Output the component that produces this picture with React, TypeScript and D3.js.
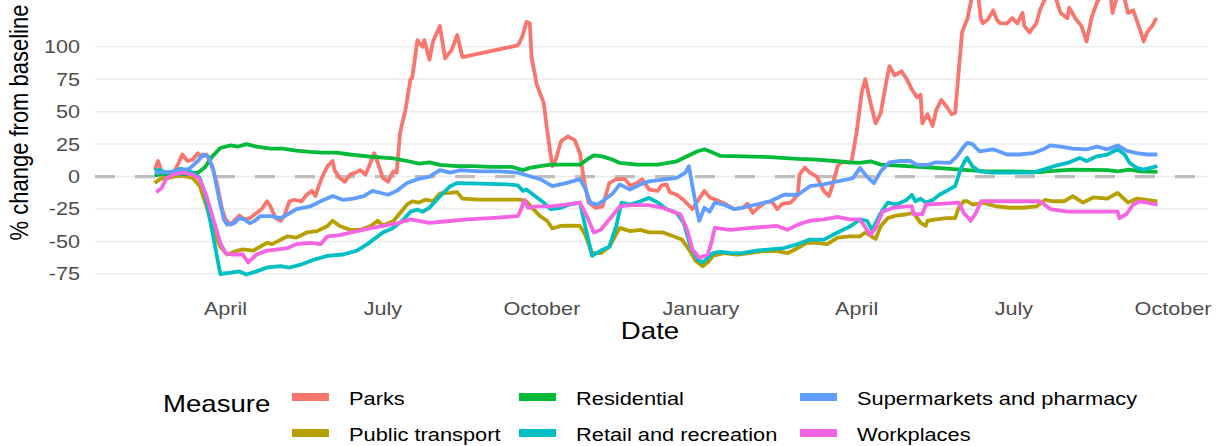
import React from "react";
import * as d3 from "d3";

// x values are days since DAY0 (1 April 2020); y values are % change from baseline
const DAY0 = "2020-04-01";
const measures = ["Parks", "Public transport", "Residential", "Retail and recreation", "Supermarkets and pharmacy", "Workplaces"];
const colours = ["#F8766D", "#B79F00", "#00BA38", "#00BFC4", "#619CFF", "#F564E3"];
const yTicks = [-75, -50, -25, 0, 25, 50, 75, 100];
const xTickDates = ["2020-04-01", "2020-07-01", "2020-10-01", "2021-01-01", "2021-04-01", "2021-07-01", "2021-10-01"];

const parks: [number, number][] = [[-41,5],[-39,12],[-36,0],[-32,-1],[-28,8],[-25,17],[-22,12],[-19,13],[-16,18],[-14,15],[-11,17],[-8,9],[-5,-5],[-2,-25],[0,-33],[3,-37],[5,-34],[8,-30],[11,-33],[14,-32],[18,-28],[21,-25],[24,-19],[26,-23],[29,-32],[32,-34],[34,-30],[37,-19],[40,-18],[44,-19],[47,-14],[50,-11],[52,-15],[54,-7],[56,0],[59,8],[62,12],[63,5],[66,-1],[69,-4],[72,1.5],[75,3],[78,5],[81,1.5],[84,11],[86,18],[88,11],[91,-1],[94,-4],[97,4],[99,3],[101,34],[104,51],[107,75],[108,76],[111,105],[114,100],[115,105],[118,90],[120,104],[124,116],[127,91],[131,98],[134,109],[137,92],[169,101],[170,103],[172,109],[174,119],[176,118],[177,92],[180,71],[184,57],[186,36],[189,8],[191,13],[194,27],[198,31],[202,28],[205,18],[207,0],[210,-20],[214,-24],[218,-23],[222,-5],[226,-2],[231,-2],[234,-7],[238,-5],[241,-2],[245,-10],[250,-11],[252,-7],[255,-6],[257,-12],[261,-14],[265,-18],[270,-25],[273,-19],[277,-11],[280,-16],[284,-18],[289,-21],[294,-25],[299,-24],[302,-21],[305,-28],[308,-24],[312,-20],[316,-19],[319,-25],[322,-21],[327,-20],[331,-14],[332,1.5],[335,7],[338,3],[342,0],[346,-11],[349,-15],[351,-7],[354,8],[356,11],[362,11],[365,34],[368,65],[370,75],[373,57],[376,41],[379,49],[382,72],[384,85],[387,78],[391,81],[394,75],[397,67],[400,61],[402,63],[403,41],[406,48],[409,39],[411,51],[414,59],[417,54],[420,48],[422,49],[424,80],[426,111],[428,118],[429,121],[432,140],[435,142],[437,121],[438,118],[441,121],[444,128],[446,121],[448,118],[452,118],[455,122],[458,118],[461,126],[462,116],[465,111],[469,118],[471,128],[475,140],[479,142],[483,126],[487,122],[488,130],[492,121],[495,116],[498,104],[501,123],[504,134],[508,142],[512,138],[513,126],[516,140],[519,142],[522,126],[525,128],[529,113],[531,104],[533,111],[536,116],[538,121],[539,121]];

const publicTransport: [number, number][] = [[-41,-5],[-38,-2],[-34,-1],[-30,0],[-25,1],[-19,-1],[-15,-7],[-11,-23],[-7,-41],[-3,-54],[1,-60],[7,-57],[10,-56],[16,-57],[20,-54],[24,-51],[27,-52],[32,-48.5],[36,-46],[41,-47],[47,-43],[53,-42],[59,-38],[62,-34],[66,-38],[72,-41],[78,-41],[84,-38],[88,-34],[91,-37.7],[97,-34.4],[101,-28],[105,-21.5],[108,-19],[112,-20],[116,-17.7],[120,-19],[124,-13],[130,-12.5],[134,-12],[137,-17],[147,-17.7],[170,-17.7],[174,-19],[178,-25],[182,-30.5],[186,-34],[189,-40],[194,-38],[199,-37.7],[205,-38],[208,-44.6],[212,-59],[217,-59],[222,-54],[228,-39.5],[234,-42],[240,-41],[245,-43],[253,-43],[259,-46],[264,-48.5],[268,-56],[272,-65],[276,-69],[279,-66],[282,-61],[288,-59],[296,-60],[303,-59],[311,-57.4],[319,-57.4],[325,-59],[331,-55],[336,-51],[342,-51],[348,-52],[354,-47],[361,-46],[367,-46],[370,-43],[376,-48],[379,-38],[383,-32],[388,-30],[394,-29],[398,-28],[402,-35.6],[405,-38],[406,-34],[411,-33],[417,-32],[422,-32],[424,-24],[427,-19],[429,-19],[432,-21.5],[438,-20],[446,-23],[454,-24],[461,-24],[469,-23],[474,-18],[479,-19],[485,-19],[490,-15],[496,-20],[502,-16],[510,-17],[516,-12.5],[522,-20],[527,-17],[533,-18],[539,-19]];

const residential: [number, number][] = [[-41,1],[-35,2],[-28,2],[-22,2],[-16,3],[-12,7],[-8,15],[-3,22],[3,24],[7,23],[12,25],[18,23],[26,21.5],[33,21.5],[41,20],[49,19],[56,18.5],[64,18.5],[72,17],[82,15.6],[91,14.6],[97,14],[105,12],[112,10],[118,11],[124,9],[134,8],[143,8],[153,7.4],[166,7.4],[172,5],[176,6.7],[182,8],[188,9.2],[197,9.2],[205,9.2],[209,13],[213,16.4],[218,15.6],[224,13],[228,10.5],[238,9.2],[250,9.2],[261,11.8],[267,15.6],[273,19.5],[277,21],[280,19.5],[286,16],[299,15.6],[315,15],[331,13.6],[342,13],[354,11.8],[361,11],[367,10.5],[373,11.8],[379,9.2],[394,8],[406,7.2],[419,5.9],[429,4.9],[440,4],[455,4],[471,3.5],[475,4],[490,5.4],[510,4.9],[516,4],[523,5.4],[529,4],[539,3.6]];

const retail: [number, number][] = [[-41,5],[-38,5],[-34,3],[-30,4],[-26,6],[-22,5],[-19,3],[-15,-1],[-12,-12.5],[-9,-33],[-6,-54],[-3,-75],[3,-74],[8,-73],[12,-75.4],[18,-73],[24,-70],[32,-69],[37,-70],[43,-68],[51,-64],[59,-61],[68,-60],[76,-57],[82,-52],[91,-43],[97,-39.5],[103,-33],[107,-27],[111,-25.4],[114,-27],[118,-24],[122,-18],[126,-12.5],[130,-7.4],[134,-5],[147,-5.4],[163,-6],[169,-6.7],[172,-11],[174,-10],[178,-14],[184,-20],[188,-25],[194,-24],[199,-21.5],[205,-20],[208,-38],[212,-61],[217,-57],[222,-54],[226,-38],[229,-20],[234,-21.5],[240,-19],[245,-16.4],[250,-20],[255,-25],[261,-28],[265,-35.6],[269,-54],[273,-64],[276,-66],[279,-62.5],[282,-59],[286,-58],[292,-58.7],[299,-59],[307,-57],[315,-56],[323,-55],[331,-52],[338,-48.5],[346,-48.5],[354,-43],[361,-38.5],[367,-33],[371,-34],[374,-41],[379,-28],[383,-20],[388,-21.5],[394,-18],[397,-14],[399,-19],[402,-17],[405,-20],[409,-18],[413,-14],[417,-11],[422,-7.4],[425,5],[428,13],[429,14.4],[432,8],[436,4],[444,3],[455,3],[467,3],[473,5.4],[479,8],[487,10.5],[494,14.4],[498,12],[504,15.6],[510,17],[516,21],[520,17],[523,10.5],[527,6.7],[531,5.4],[535,6.7],[539,8]];

const supermarkets: [number, number][] = [[-41,3],[-36,3],[-30,4],[-25,5],[-21,6],[-16,12],[-13,17],[-10,15.6],[-7,5],[-4,-15],[-1,-33],[1,-37],[5,-36],[8,-32],[11,-33],[14,-36],[17,-34],[20,-30.5],[26,-30.5],[32,-32],[36,-29],[41,-25],[49,-23],[55,-19],[62,-15],[68,-18],[74,-17],[80,-15],[85,-11],[91,-13],[94,-14],[99,-11],[105,-5],[111,-2],[118,0],[124,5],[130,3],[136,5],[147,4],[159,4],[169,3],[174,1],[182,-2],[186,-5],[189,-7.4],[197,-5],[205,-2],[208,-9],[211,-20],[215,-21.5],[218,-19],[224,-13],[228,-6],[234,-10],[240,-6],[245,-3.6],[253,-2.3],[261,-1],[266,3],[268,8],[270,-7],[273,-28],[274,-34],[277,-24],[280,-27],[283,-20],[288,-21.5],[294,-25],[299,-24],[307,-21.5],[315,-19],[323,-14],[331,-14],[338,-7.4],[346,-6],[354,-3.6],[361,-1.8],[363,-1],[367,6.7],[371,0],[375,-5],[379,4],[384,11],[390,12],[396,12],[400,9],[406,9],[411,11],[419,10.5],[423,15.6],[427,23],[429,26],[432,25],[436,19.5],[444,21],[452,17],[459,17],[467,18],[473,21],[477,24],[483,23],[490,21.5],[498,21],[504,23],[510,21],[516,24],[521,20],[527,18],[533,17],[539,17]];

const workplaces: [number, number][] = [[-40,-12],[-37,-9],[-34,-1],[-30,1.5],[-25,3],[-19,1.5],[-15,-2],[-11,-15],[-7,-33],[-3,-51],[0,-59],[4,-60],[10,-60],[13,-66],[18,-60],[24,-57],[30,-56],[36,-55],[41,-52],[49,-51],[55,-52],[59,-46],[66,-45],[76,-42],[85,-39.5],[95,-37],[99,-36],[107,-33],[118,-35.6],[128,-34.4],[140,-33],[153,-32],[169,-30.5],[170,-28],[173,-18],[175,-24],[180,-23],[188,-23],[197,-21.5],[205,-20],[209,-30.5],[213,-43],[217,-41],[222,-33],[228,-23],[234,-22],[245,-22],[253,-24],[259,-27],[263,-29],[267,-41],[270,-56],[274,-62.5],[279,-60],[281,-51],[283,-39.5],[292,-41],[299,-40],[309,-39],[319,-38],[325,-41],[331,-37],[338,-34],[346,-33],[354,-31],[361,-33],[367,-33],[371,-41],[373,-45],[376,-39.5],[380,-27],[386,-24],[394,-23],[397,-23],[398,-29],[403,-29],[405,-21.5],[413,-21],[424,-20],[427,-28],[431,-34],[434,-28],[437,-19],[452,-19],[471,-19],[477,-25],[487,-27],[500,-27],[516,-27],[517,-32],[521,-29],[525,-21.5],[529,-19],[539,-21.5]];

const seriesData = [parks, publicTransport, residential, retail, supermarkets, workplaces];

const FONT = "'Liberation Sans', Arial, Helvetica, sans-serif";
const W = 1216, H = 446;
const panelLeft = 95, panelRight = 1208;

const parseDate = d3.timeParse("%Y-%m-%d");
const day0 = parseDate(DAY0) as Date;

export default function App() {
  const x = d3.scaleTime()
    .domain([parseDate("2020-04-01") as Date, parseDate("2021-10-01") as Date])
    .range([225.5, 1173]);
  const y = d3.scaleLinear().domain([-75, 100]).range([274, 46.7]);
  const line = d3.line<[number, number]>()
    .x(d => x(d3.timeDay.offset(day0, d[0])))
    .y(d => y(d[1]));
  const fmt = d3.timeFormat("%B");

  const legendCols = [292, 519, 800];
  const legendRows = [393, 429];

  return (
    <svg width={W} height={H} style={{ position: "absolute", left: 0, top: 0, background: "#fff" }} fontFamily={FONT}>
      <rect x={0} y={0} width={W} height={H} fill="#fff" />
      {yTicks.map(t => (
        <line key={"g" + t} x1={panelLeft} x2={panelRight} y1={y(t)} y2={y(t)} stroke="#ebebeb" strokeWidth={1.5} />
      ))}
      <line x1={panelLeft} x2={panelRight} y1={y(0)} y2={y(0)} stroke="#bebebe" strokeWidth={3.2} strokeDasharray="20 20" />
      {seriesData.map((s, i) => (
        <path key={measures[i]} d={line(s) || ""} fill="none" stroke={colours[i]} strokeWidth={3.8} strokeLinejoin="round" strokeLinecap="butt" />
      ))}
      {yTicks.map(t => (
        <text key={"yl" + t} transform={`translate(80,${y(t) + 6.4}) scale(1.2,1)`} textAnchor="end" fontSize={18} fill="#4d4d4d">{t}</text>
      ))}
      {xTickDates.map(s => {
        const d = parseDate(s) as Date;
        return (
          <text key={s} transform={`translate(${x(d)},315) scale(1.2,1)`} textAnchor="middle" fontSize={18} fill="#4d4d4d">{fmt(d)}</text>
        );
      })}
      <text transform="translate(650,339) scale(1.2,1)" textAnchor="middle" fontSize={23} fill="#000">Date</text>
      <text transform="translate(28,122.5) rotate(-90) scale(1,1.2)" textAnchor="middle" fontSize={22} fill="#000">% change from baseline</text>
      <text transform="translate(163,411.5) scale(1.2,1)" fontSize={23} fill="#000">Measure</text>
      {measures.map((m, i) => {
        const col = Math.floor(i / 2);
        const row = i % 2;
        const kx = legendCols[col];
        const ky = legendRows[row];
        return (
          <g key={"lg" + m}>
            <rect x={kx} y={ky} width={37} height={8} fill={colours[i]} />
            <text transform={`translate(${kx + 57},${ky + 12}) scale(1.18,1)`} fontSize={18.5} fill="#000">{m}</text>
          </g>
        );
      })}
    </svg>
  );
}
